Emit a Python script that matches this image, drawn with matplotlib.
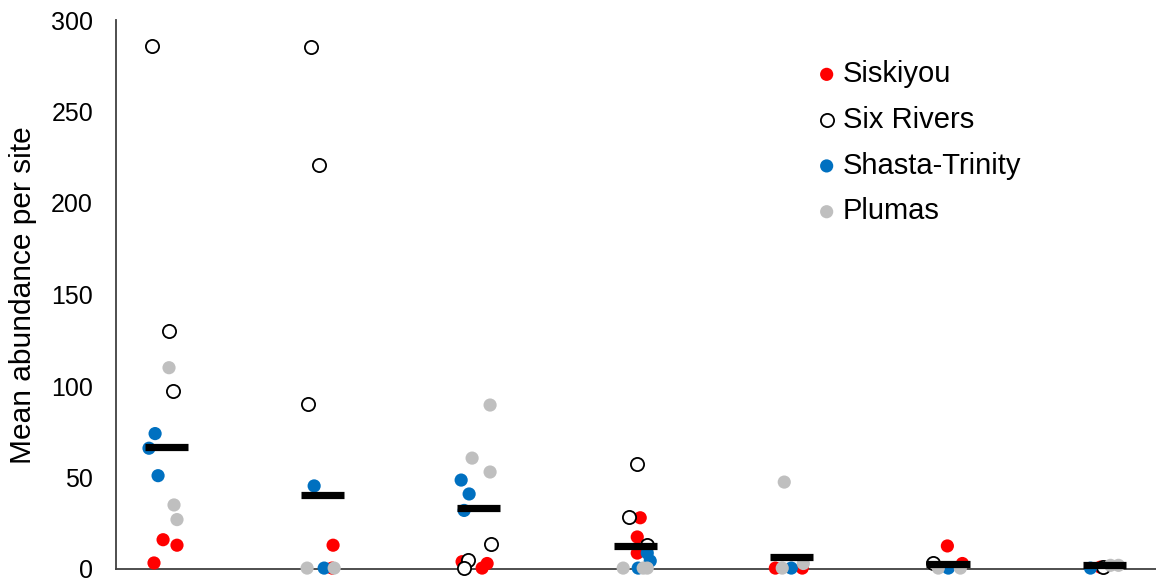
import matplotlib
matplotlib.use("Agg")
import matplotlib.pyplot as plt

plt.rcParams['font.family'] = ['Liberation Sans', 'DejaVu Sans']

series_names = ["Siskiyou", "Six Rivers", "Shasta-Trinity", "Plumas"]

siskiyou_x = [0.981, 1.070, 0.923, 2.068, 2.062, 2.893, 3.021, 3.053, 4.032, 4.013, 4.013,
              4.896, 5.068, 5.996, 6.092, 6.974]
siskiyou_y = [16, 13, 3.3, 13, 0.5, 4, 0.5, 3, 28, 17.5, 8.7, 0.5, 0.5, 12.6, 3, 1]

sixrivers_x = [0.910, 1.019, 1.045, 1.928, 1.979, 1.908, 3.079, 2.932, 2.906, 4.013, 3.962,
               4.077, 5.906, 6.994]
sixrivers_y = [286, 130, 97, 285, 220.8, 90, 13.7, 5, 0.5, 57.4, 28.4, 13, 3.3, 1]

shasta_x = [0.930, 0.891, 0.949, 1.947, 2.011, 2.887, 2.938, 2.906, 4.077, 4.096, 4.019,
            4.998, 6.002, 6.911]
shasta_y = [74, 66, 51, 45.4, 0.5, 48.6, 41, 32, 8.7, 4.4, 0.5, 0.5, 0.5, 0.5]

plumas_x = [1.019, 1.051, 1.070, 1.902, 2.075, 3.072, 2.957, 3.072, 3.923, 4.051, 4.077,
            4.953, 4.940, 5.075, 5.938, 6.079, 7.039, 7.090]
plumas_y = [110, 35, 27, 0.5, 0.5, 89.6, 60.6, 53, 0.5, 0.5, 0.5, 47.5, 0.5, 3, 0.5, 0.5, 2, 2]

group_pos = [1, 2, 3, 4, 5, 6, 7]
group_means = [66.8, 40.4, 33.5, 12.6, 6.5, 2.7, 2.2]

y_ticks = [0, 50, 100, 150, 200, 250, 300]
y_label = "Mean abundance per site"

W, H = 1156, 582
fig = plt.figure(figsize=(W / 100, H / 100), dpi=100)
ax = fig.add_axes([116 / W, 1 - 569 / H, 1 - 116 / W, 549 / H])

ms = 90
ax.scatter(siskiyou_x, siskiyou_y, s=ms, color="#FF0000", edgecolors="none",
           label=series_names[0], clip_on=False, zorder=3)
ax.scatter(sixrivers_x, sixrivers_y, s=ms, facecolors="white", edgecolors="black",
           linewidths=1.3, label=series_names[1], clip_on=False, zorder=3)
ax.scatter(shasta_x, shasta_y, s=ms, color="#0070C0", edgecolors="none",
           label=series_names[2], clip_on=False, zorder=3)
ax.scatter(plumas_x, plumas_y, s=ms, color="#BFBFBF", edgecolors="none",
           label=series_names[3], clip_on=False, zorder=3)

half = 0.1375
ax.hlines(group_means, [p - half for p in group_pos], [p + half for p in group_pos],
          colors="black", linewidth=5.2, zorder=4, clip_on=False)

ax.set_xlim(0.68, 7.33)
ax.set_ylim(0, 300)
ax.set_yticks(y_ticks)
ax.set_xticks([])
ax.tick_params(axis='y', length=0, pad=16.5, labelsize=18)
for s in ["top", "right"]:
    ax.spines[s].set_visible(False)
for s in ["left", "bottom"]:
    ax.spines[s].set_linewidth(1.3)
    ax.spines[s].set_color("#404040")

fig.text(23 / W, 1 - 295 / H, y_label, fontsize=21.5, rotation=90,
         ha="center", va="center")

leg = ax.legend(loc="upper left", bbox_to_anchor=((815 - 116) / (W - 116), 1 - (60 - 20) / 549),
                frameon=False, fontsize=21, handletextpad=0.15, labelspacing=0.61,
                borderpad=0, handlelength=0.8, borderaxespad=0)

fig.savefig("out.png", dpi=100)
